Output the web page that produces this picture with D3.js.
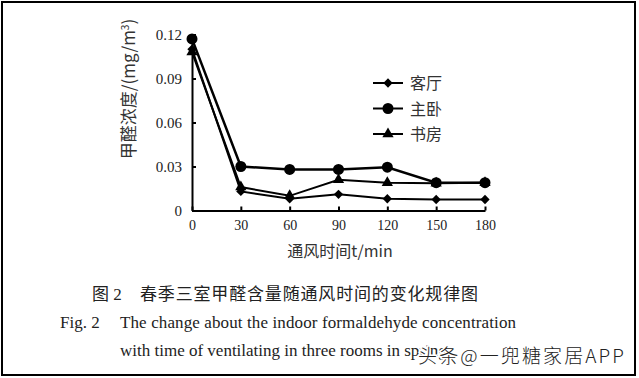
<!DOCTYPE html>
<head>
    <meta charset="utf-8">
    <style>
        body { margin: 0; background: #fff; }
        svg { display: block; }
        .axis .domain, .axis line { stroke: #000; stroke-width: 2px; }
        .lbl { font-family: 'Noto Sans CJK SC', sans-serif; fill: #333; }
        .cap { font-family: 'Liberation Serif', 'Noto Sans CJK SC', serif; fill: #222; }
    </style>
</head>
<body>
    <div id="chart"></div>
    <script src="https://d3js.org/d3.v7.min.js"></script>
    <script>
        // time after ventilation starts (min)
        var times = [0, 30, 60, 90, 120, 150, 180];
        var keting = [0.110, 0.013, 0.008, 0.011, 0.008, 0.0075, 0.0075];   // 客厅
        var zhuwo  = [0.117, 0.030, 0.028, 0.028, 0.0295, 0.019, 0.019];    // 主卧
        var shufang = [0.108, 0.016, 0.010, 0.021, 0.019, 0.0185, 0.019];   // 书房
        var yTicks = [0, 0.03, 0.06, 0.09, 0.12];
        var seriesNames = ["客厅", "主卧", "书房"];

        var series = [
            {name: seriesNames[0], values: keting, shape: d3.symbolDiamond2, size: 55, w: 2},
            {name: seriesNames[1], values: zhuwo, shape: d3.symbolCircle, size: 95, w: 2.5},
            {name: seriesNames[2], values: shufang, shape: d3.symbolTriangle, size: 55, w: 2}
        ];

        var W = 639, H = 378;
        var svg = d3.select("#chart").append("svg")
            .attr("width", W).attr("height", H);

        // frame
        svg.append("rect")
            .attr("x", 2).attr("y", 2).attr("width", 633).attr("height", 373)
            .attr("fill", "none").attr("stroke", "#000").attr("stroke-width", 2);

        var x = d3.scaleLinear().domain([0, 180]).range([192, 485]);
        var y = d3.scaleLinear().domain([0, 0.12]).range([210.5, 34.5]);

        svg.append("g")
            .attr("class", "axis")
            .attr("transform", "translate(0,210.5)")
            .call(d3.axisBottom(x).tickValues(times).tickSize(-4).tickSizeOuter(0).tickPadding(8))
            .attr("font-family", "'Liberation Serif', serif").attr("font-size", 14)
            .selectAll("text").attr("dy", "0.85em").attr("fill", "#222");

        svg.append("g")
            .attr("class", "axis")
            .attr("transform", "translate(192,0)")
            .call(d3.axisLeft(y).tickValues(yTicks).tickSize(-4).tickSizeOuter(0).tickPadding(10)
                .tickFormat(function(d) { return d === 0 ? "0" : d3.format(".2f")(d); }))
            .attr("font-family", "'Liberation Serif', serif").attr("font-size", 15)
            .selectAll("text").attr("fill", "#222");

        var line = d3.line()
            .x(function(d, i) { return x(times[i]); })
            .y(function(d) { return y(d); });

        series.forEach(function(s) {
            svg.append("path")
                .datum(s.values)
                .attr("d", line)
                .attr("fill", "none")
                .attr("stroke", "#000")
                .attr("stroke-width", s.w);

            svg.selectAll(null)
                .data(s.values)
                .enter().append("path")
                .attr("d", d3.symbol().type(s.shape).size(s.size))
                .attr("transform", function(d, i) { return "translate(" + x(times[i]) + "," + y(d) + ")"; })
                .attr("fill", "#000");
        });

        // legend
        var legend = svg.append("g").attr("transform", "translate(373,83)");
        series.forEach(function(s, i) {
            var g = legend.append("g").attr("transform", "translate(0," + (i * 25.5) + ")");
            g.append("line").attr("x1", 0).attr("x2", 30).attr("stroke", "#000").attr("stroke-width", 2);
            g.append("path").attr("d", d3.symbol().type(s.shape).size(s.size)())
                .attr("transform", "translate(15,0)").attr("fill", "#000");
            g.append("text").attr("class", "lbl").attr("x", 37).attr("y", 6)
                .attr("font-size", 16).text(s.name);
        });

        // axis titles
        svg.append("text")
            .attr("class", "lbl")
            .attr("transform", "translate(135,89) rotate(-90)")
            .attr("text-anchor", "middle")
            .attr("font-size", 17)
            .html("甲醛浓度/(mg/m<tspan dy='-6' font-size='10'>3</tspan><tspan dy='6'>)</tspan>");

        svg.append("text")
            .attr("class", "lbl")
            .attr("x", 340).attr("y", 257)
            .attr("text-anchor", "middle")
            .attr("font-size", 16)
            .text("通风时间t/min");

        // caption
        svg.append("text").attr("class", "cap").attr("x", 92).attr("y", 300)
            .attr("font-size", 17).attr("fill", "#444").text("图 2");
        svg.append("text").attr("class", "cap").attr("x", 140).attr("y", 300)
            .attr("font-size", 17).attr("textLength", 338).attr("fill", "#444")
            .text("春季三室甲醛含量随通风时间的变化规律图");
        svg.append("text").attr("class", "cap").attr("x", 60).attr("y", 328)
            .attr("font-size", 17).text("Fig. 2");
        svg.append("text").attr("class", "cap").attr("x", 120).attr("y", 328)
            .attr("font-size", 17).attr("textLength", 396).text("The change about the indoor formaldehyde concentration");
        svg.append("text").attr("class", "cap").attr("x", 120).attr("y", 356)
            .attr("font-size", 17).text("with time of ventilating in three rooms in spring");

        // watermark
        svg.append("text")
            .attr("x", 418).attr("y", 363)
            .attr("font-family", "'Noto Sans CJK SC', sans-serif")
            .attr("font-size", 19).attr("font-weight", 300)
            .attr("fill", "#222").attr("stroke", "#fff").attr("stroke-width", 3)
            .attr("paint-order", "stroke")
            .attr("textLength", 206)
            .text("头条@一兜糖家居APP");
    </script>
</body>
